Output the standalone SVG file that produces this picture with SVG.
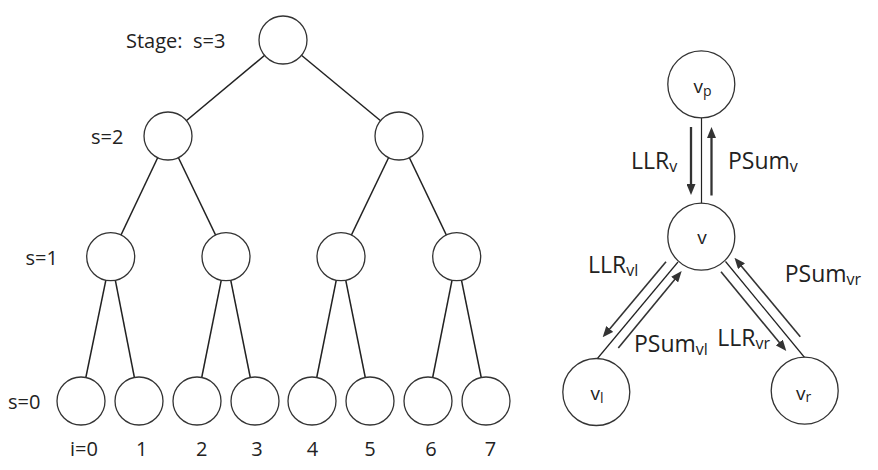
<svg xmlns="http://www.w3.org/2000/svg" width="878" height="470" viewBox="0 0 878 470">
<style>
text{font-family:"Open Sans","Noto Sans","DejaVu Sans",sans-serif;fill:#222}
.lbl{font-size:20px}
.big{font-size:23px}
.sub{font-size:16px}
.nd{font-size:19px}
.nsub{font-size:14px}
circle{fill:#fff;stroke:#333;stroke-width:1.3}
.e{stroke:#222;stroke-width:1.5;fill:none}
.e2{stroke:#222;stroke-width:1.2;fill:none}
.a{stroke:#333;stroke-width:2.3;fill:none}
.ad{stroke:#333;stroke-width:1.6;fill:none}
</style>
<defs>
<marker id="ah" viewBox="0 0 11 9" refX="3" refY="4.5" markerUnits="userSpaceOnUse" markerWidth="11" markerHeight="9" orient="auto">
<path d="M0,0 L11,4.5 L0,9 z" fill="#333"/>
</marker>
</defs>
<g id="connectors">
<line class="e" x1="283" y1="40" x2="168" y2="136"/>
<line class="e" x1="283" y1="40" x2="399" y2="136"/>
<line class="e" x1="168" y1="136" x2="110.7" y2="256.7"/>
<line class="e" x1="168" y1="136" x2="226" y2="256.7"/>
<line class="e" x1="399" y1="136" x2="341" y2="256.7"/>
<line class="e" x1="399" y1="136" x2="456.7" y2="256.7"/>
<line class="e" x1="110.7" y1="256.7" x2="81" y2="401"/>
<line class="e" x1="110.7" y1="256.7" x2="139" y2="401"/>
<line class="e" x1="226" y1="256.7" x2="197" y2="401"/>
<line class="e" x1="226" y1="256.7" x2="255" y2="401"/>
<line class="e" x1="341" y1="256.7" x2="312" y2="401"/>
<line class="e" x1="341" y1="256.7" x2="370" y2="401"/>
<line class="e" x1="456.7" y1="256.7" x2="428" y2="401"/>
<line class="e" x1="456.7" y1="256.7" x2="486" y2="401"/>
<line class="e2" x1="701.5" y1="110" x2="701.5" y2="210"/>
<line class="e2" x1="678" y1="262" x2="597" y2="359"/>
<line class="e2" x1="725.5" y1="261.5" x2="805" y2="358"/>
<line class="a" x1="691" y1="127" x2="691" y2="187" marker-end="url(#ah)"/>
<line class="a" x1="711.5" y1="195.5" x2="711.5" y2="135" marker-end="url(#ah)"/>
<line class="ad" x1="666" y1="261.7" x2="607.8" y2="331.2" marker-end="url(#ah)"/>
<line class="ad" x1="618.3" y1="348" x2="676.6" y2="277.2" marker-end="url(#ah)"/>
<line class="ad" x1="721" y1="271.7" x2="781.2" y2="344.8" marker-end="url(#ah)"/>
<line class="ad" x1="800.3" y1="336.7" x2="739.6" y2="263.9" marker-end="url(#ah)"/>
</g>
<g id="n3"><circle cx="283" cy="40" r="24"/></g>
<g id="n2a"><circle cx="168" cy="136" r="24"/></g>
<g id="n2b"><circle cx="399" cy="136" r="24"/></g>
<g id="n1a"><circle cx="110.7" cy="256.7" r="24"/></g>
<g id="n1b"><circle cx="226" cy="256.7" r="24"/></g>
<g id="n1c"><circle cx="341" cy="256.7" r="24"/></g>
<g id="n1d"><circle cx="456.7" cy="256.7" r="24"/></g>
<g id="n0a"><circle cx="81" cy="401" r="24"/></g>
<g id="n0b"><circle cx="139" cy="401" r="24"/></g>
<g id="n0c"><circle cx="197" cy="401" r="24"/></g>
<g id="n0d"><circle cx="255" cy="401" r="24"/></g>
<g id="n0e"><circle cx="312" cy="401" r="24"/></g>
<g id="n0f"><circle cx="370" cy="401" r="24"/></g>
<g id="n0g"><circle cx="428" cy="401" r="24"/></g>
<g id="n0h"><circle cx="486" cy="401" r="24"/></g>
<g id="vp"><circle cx="701.3" cy="84.3" r="33.5"/><text class="nd" x="693.5" y="93.3">v<tspan class="nsub" dy="3">p</tspan></text></g>
<g id="v"><circle cx="701.3" cy="236.7" r="33.5"/><text class="nd" x="702" y="243.5" text-anchor="middle">v</text></g>
<g id="vl"><circle cx="596.3" cy="392" r="33.5"/><text class="nd" x="590.5" y="400">v<tspan class="nsub" dy="3">l</tspan></text></g>
<g id="vr"><circle cx="804.7" cy="390.7" r="33.5"/><text class="nd" x="796" y="400">v<tspan class="nsub" dy="2">r</tspan></text></g>
<g id="labels">
<text class="lbl" x="126" y="48" font-size="21">Stage:&#160;&#160;s=3</text>
<text class="lbl" x="91" y="143.5">s=2</text>
<text class="lbl" x="25.5" y="265">s=1</text>
<text class="lbl" x="8" y="408.5">s=0</text>
<text class="lbl" x="70" y="456">i=0</text>
<text class="lbl" x="141.7" y="456" text-anchor="middle">1</text>
<text class="lbl" x="201.7" y="456" text-anchor="middle">2</text>
<text class="lbl" x="257" y="456" text-anchor="middle">3</text>
<text class="lbl" x="312.5" y="456" text-anchor="middle">4</text>
<text class="lbl" x="370" y="456" text-anchor="middle">5</text>
<text class="lbl" x="431" y="456" text-anchor="middle">6</text>
<text class="lbl" x="490.5" y="456" text-anchor="middle">7</text>
<text class="big" x="631" y="169">LLR<tspan class="sub" dy="3">v</tspan></text>
<text class="big" x="728" y="169">PSum<tspan class="sub" dy="3">v</tspan></text>
<text class="big" x="588" y="273">LLR<tspan class="sub" dy="3">vl</tspan></text>
<text class="big" x="634" y="351.5">PSum<tspan class="sub" dy="3">vl</tspan></text>
<text class="big" x="717.3" y="346">LLR<tspan class="sub" dy="3">vr</tspan></text>
<text class="big" x="784.7" y="281.5">PSum<tspan class="sub" dy="3">vr</tspan></text>
</g>
</svg>
